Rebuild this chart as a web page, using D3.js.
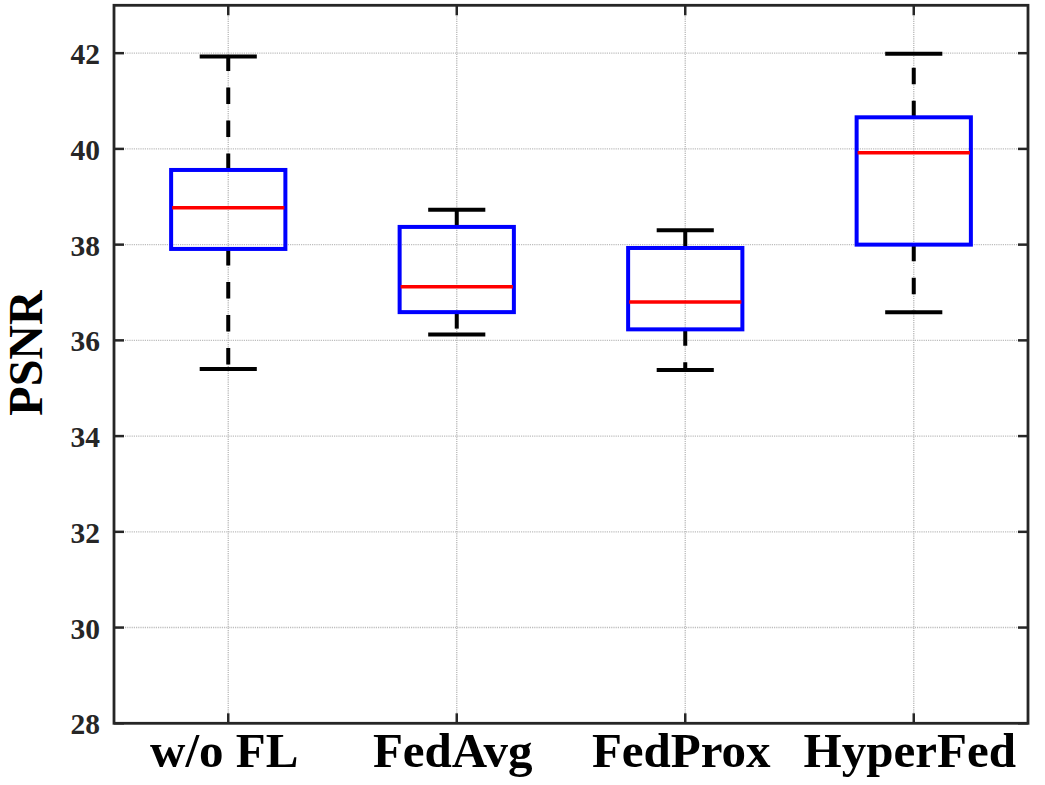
<!DOCTYPE html>
<html>
<head>
<meta charset="utf-8">
<script src="https://cdn.jsdelivr.net/npm/d3@7"></script>
<style>
  html, body { margin: 0; padding: 0; background: #fff; }
  svg { display: block; }
</style>
</head>
<body>
<svg id="chart" width="1045" height="785"></svg>
<script>
// ---- data ----
const categories = ["w/o FL", "FedAvg", "FedProx", "HyperFed"];
const whiskerLow  = [35.40, 36.12, 35.38, 36.59];
const q1          = [37.91, 36.59, 36.23, 38.00];
const median      = [38.77, 37.12, 36.80, 39.92];
const q3          = [39.56, 38.37, 37.93, 40.66];
const whiskerHigh = [41.93, 38.73, 38.30, 41.99];
const yTicks = [28, 30, 32, 34, 36, 38, 40, 42];
const yLabel = "PSNR";

(function () {
// ---- layout ----
const pLeft = 114, pRight = 1028, pTop = 5.3, pBottom = 723.3;
const svg = d3.select("#chart");

const x = d3.scaleLinear().domain([0.5, categories.length + 0.5]).range([pLeft, pRight]);
const y = d3.scaleLinear().domain([28, 43]).range([pBottom, pTop]);

const axisColor = "#262626";
const font = "'Liberation Serif', 'Times New Roman', serif";

// grid
const grid = svg.append("g");
grid.selectAll("line.gy").data(yTicks.filter(t => t > 28)).join("line")
  .attr("x1", pLeft).attr("x2", pRight)
  .attr("y1", d => y(d)).attr("y2", d => y(d))
  .attr("stroke", "#bdbdbd").attr("stroke-width", 1.4).attr("stroke-dasharray", "1.2,1");
grid.selectAll("line.gx").data(categories).join("line")
  .attr("x1", (d, i) => x(i + 1)).attr("x2", (d, i) => x(i + 1))
  .attr("y1", pTop).attr("y2", pBottom)
  .attr("stroke", "#bdbdbd").attr("stroke-width", 1.4).attr("stroke-dasharray", "1.2,1");

// boxes
const idx = d3.range(categories.length);
const boxW = 0.25;
const capW = 0.125;
const g = svg.append("g");

g.selectAll("line.wu").data(idx).join("line")
  .attr("x1", i => x(i + 1)).attr("x2", i => x(i + 1))
  .attr("y1", i => y(q3[i])).attr("y2", i => y(whiskerHigh[i]))
  .attr("stroke", "#000").attr("stroke-width", 4).attr("stroke-dasharray", "16.5,16.5");
g.selectAll("line.wl").data(idx).join("line")
  .attr("x1", i => x(i + 1)).attr("x2", i => x(i + 1))
  .attr("y1", i => y(q1[i])).attr("y2", i => y(whiskerLow[i]))
  .attr("stroke", "#000").attr("stroke-width", 4).attr("stroke-dasharray", "16.5,16.5");
g.selectAll("line.cu").data(idx).join("line")
  .attr("x1", i => x(i + 1 - capW)).attr("x2", i => x(i + 1 + capW))
  .attr("y1", i => y(whiskerHigh[i])).attr("y2", i => y(whiskerHigh[i]))
  .attr("stroke", "#000").attr("stroke-width", 4);
g.selectAll("line.cl").data(idx).join("line")
  .attr("x1", i => x(i + 1 - capW)).attr("x2", i => x(i + 1 + capW))
  .attr("y1", i => y(whiskerLow[i])).attr("y2", i => y(whiskerLow[i]))
  .attr("stroke", "#000").attr("stroke-width", 4);
g.selectAll("rect.box").data(idx).join("rect")
  .attr("x", i => x(i + 1 - boxW))
  .attr("width", i => x(i + 1 + boxW) - x(i + 1 - boxW))
  .attr("y", i => y(q3[i]))
  .attr("height", i => y(q1[i]) - y(q3[i]))
  .attr("fill", "none").attr("stroke", "#0000ff").attr("stroke-width", 4);
g.selectAll("line.med").data(idx).join("line")
  .attr("x1", i => x(i + 1 - boxW) + 1).attr("x2", i => x(i + 1 + boxW) - 1)
  .attr("y1", i => y(median[i])).attr("y2", i => y(median[i]))
  .attr("stroke", "#ff0000").attr("stroke-width", 3.5);

// axes frame + ticks
const ax = svg.append("g");
const tickLen = 10;
yTicks.forEach(t => {
  ax.append("line").attr("x1", pLeft).attr("x2", pLeft + tickLen)
    .attr("y1", y(t)).attr("y2", y(t)).attr("stroke", axisColor).attr("stroke-width", 2.5);
  ax.append("line").attr("x1", pRight).attr("x2", pRight - tickLen)
    .attr("y1", y(t)).attr("y2", y(t)).attr("stroke", axisColor).attr("stroke-width", 2.5);
});
idx.forEach(i => {
  ax.append("line").attr("x1", x(i + 1)).attr("x2", x(i + 1))
    .attr("y1", pBottom).attr("y2", pBottom - tickLen).attr("stroke", axisColor).attr("stroke-width", 2.5);
  ax.append("line").attr("x1", x(i + 1)).attr("x2", x(i + 1))
    .attr("y1", pTop).attr("y2", pTop + tickLen).attr("stroke", axisColor).attr("stroke-width", 2.5);
});
ax.append("rect").attr("x", pLeft).attr("y", pTop)
  .attr("width", pRight - pLeft).attr("height", pBottom - pTop)
  .attr("fill", "none").attr("stroke", axisColor).attr("stroke-width", 2.8);

// y tick labels
svg.append("g").selectAll("text").data(yTicks).join("text")
  .attr("x", 100).attr("y", d => y(d) + 11)
  .attr("text-anchor", "end")
  .attr("font-family", font).attr("font-weight", "bold").attr("font-size", 29.5)
  .attr("fill", axisColor)
  .text(d => d);

// x tick labels
svg.append("g").selectAll("text").data(categories).join("text")
  .attr("x", (d, i) => x(i + 1) - 4).attr("y", 767)
  .attr("text-anchor", "middle")
  .attr("font-family", font).attr("font-weight", "bold").attr("font-size", 49)
  .attr("fill", "#000")
  .text(d => d);

// y label
svg.append("text")
  .attr("transform", "translate(42,353) rotate(-90)")
  .attr("text-anchor", "middle")
  .attr("font-family", font).attr("font-weight", "bold").attr("font-size", 48)
  .attr("fill", "#000")
  .text(yLabel);
})();
</script>
</body>
</html>
